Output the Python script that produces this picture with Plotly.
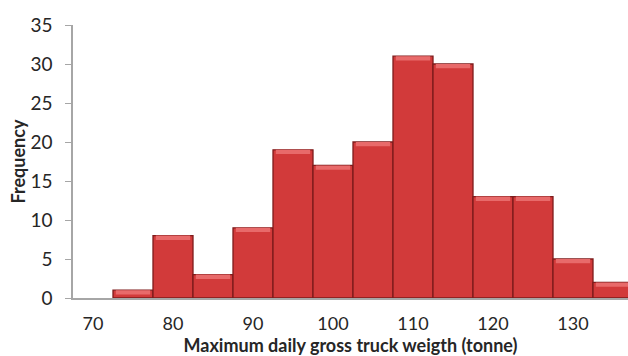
import plotly.graph_objects as go

weights = [70, 75, 80, 85, 90, 95, 100, 105, 110, 115, 120, 125, 130, 135]
freq = [0, 1, 8, 3, 9, 19, 17, 20, 31, 30, 13, 13, 5, 2]
x_ticks = [70, 80, 90, 100, 110, 120, 130]
y_ticks = [0, 5, 10, 15, 20, 25, 30, 35]

bevel = 0.55
shown = [v if v > 0 else None for v in freq]
fig = go.Figure()
fig.add_trace(go.Bar(
    x=weights, y=shown, width=5,
    marker=dict(color="#d23a3a", line=dict(color="#7e1b1b", width=1.3)),
))
fig.add_trace(go.Bar(
    x=weights, y=[bevel if v > 0 else None for v in freq],
    base=[v - bevel if v > 0 else 0 for v in freq],
    width=4.3,
    marker=dict(color="#e86a6a", line=dict(width=0)),
))

font = "Lato, Carlito, 'Open Sans', sans-serif"
fig.update_layout(
    width=628, height=356,
    margin=dict(l=73, r=0, t=25, b=58),
    paper_bgcolor="white", plot_bgcolor="white",
    barmode="overlay", showlegend=False,
    font=dict(family=font, color="#262626"),
)
fig.update_xaxes(
    range=[67.5, 136.875], tickvals=x_ticks,
    showline=True, linecolor="#a6a6a6", linewidth=1.5,
    ticks="", showgrid=False, zeroline=False,
    tickfont=dict(size=18), ticklabelstandoff=9,
    title=dict(text="<b>Maximum daily gross truck weigth (tonne)</b>",
               font=dict(size=18), standoff=1),
)
fig.update_yaxes(
    range=[0, 35], tickvals=y_ticks,
    showline=True, linecolor="#a6a6a6", linewidth=1.5,
    ticks="outside", ticklen=6, tickcolor="#a6a6a6",
    showgrid=False, zeroline=False,
    tickfont=dict(size=19), ticklabelstandoff=9,
    title=dict(text="<b>Frequency</b>", font=dict(size=18), standoff=0),
)
fig.write_html("out.html")
